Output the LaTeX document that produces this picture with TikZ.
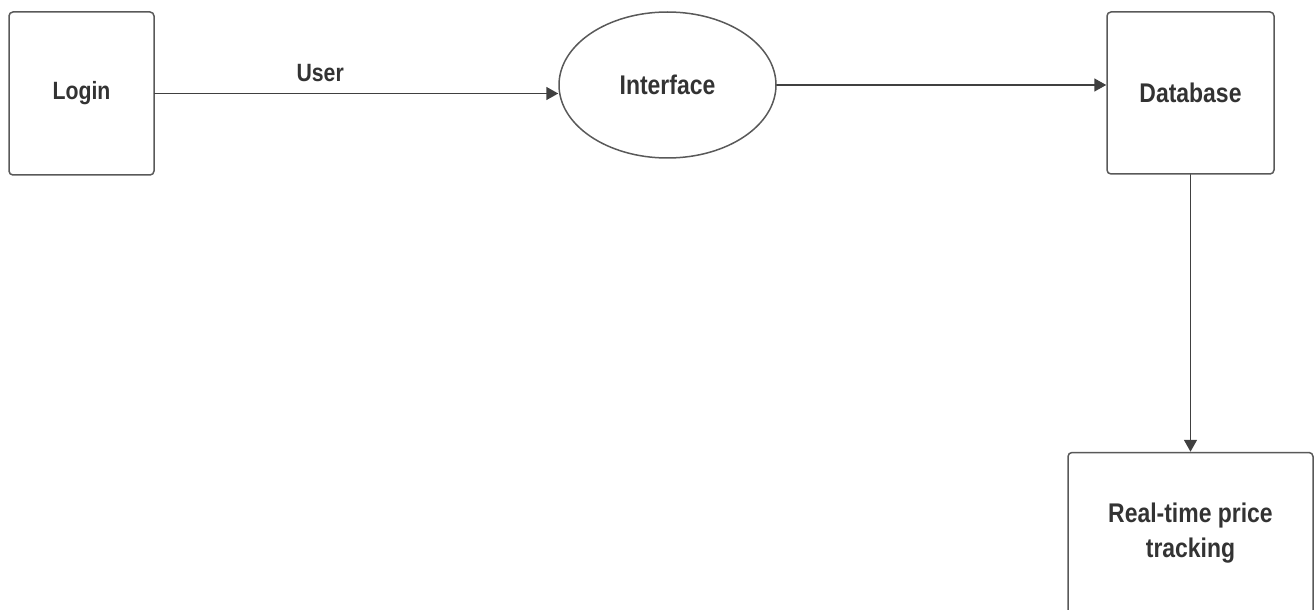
\documentclass[tikz,border=0pt]{standalone}
\usepackage{fontspec}
\setmainfont{Liberation Sans}[FakeStretch=0.85]
\usetikzlibrary{arrows.meta,shapes.geometric}
\begin{document}
\begin{tikzpicture}[x=.5pt, y=-.5pt, >={Triangle[length=6pt,width=6.5pt]}, font=\bfseries\fontsize{13.5}{17.5}\selectfont, line join=round, line cap=round,
	hop/.style={draw=black!65, rounded corners=2pt, line width=.75pt, text=black!80, align=center, inner sep=0pt},
	ln/.style={->, draw=black!75, line width=.8pt}]
	\useasboundingbox (0,0) rectangle (1314,610);
	% Các khối
	\node[hop, minimum width=72.5pt, minimum height=81.5pt, font=\bfseries\fontsize{12.5}{15}\selectfont] (login) at (81.5,93.5) {Login};
	\node[hop, ellipse, rounded corners=0pt, minimum width=108.5pt, minimum height=73pt] (iface) at (667.5,85) {Interface};
	\node[hop, minimum width=83.5pt, minimum height=81pt] (db) at (1190.5,93) {Database};
	\node[hop, minimum width=122.5pt, minimum height=81pt] (track) at (1190.5,533.5) {Real-time price\\tracking};
	% Mũi tên
	\draw[ln] (login.east) -- (login.east -| iface.west) node[pos=.41, above=2pt, text=black!80, font=\bfseries\fontsize{12.5}{15}\selectfont] (user) {User};
	\draw[ln] (iface.east) -- (iface.east -| db.west);
	\draw[ln] (db.south) -- (db.south |- track.north);
\end{tikzpicture}
\end{document}
